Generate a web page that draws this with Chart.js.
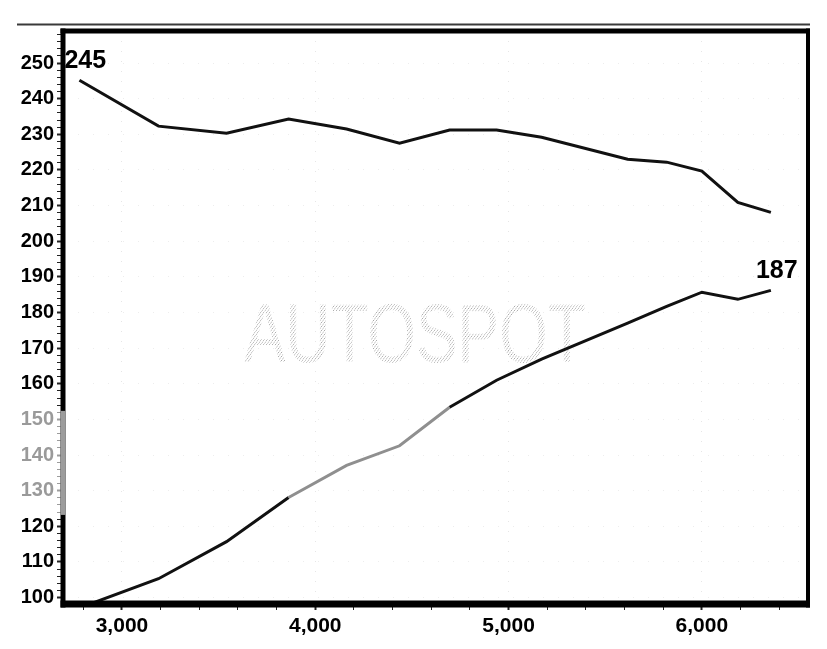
<!DOCTYPE html>
<html><head><meta charset="utf-8">
<script src="https://cdn.jsdelivr.net/npm/chart.js@4/dist/chart.umd.min.js"></script>
<style>html,body{margin:0;padding:0;background:#fff}</style>
</head><body>
<canvas id="c" width="827" height="649"></canvas>
<script>
// ---- data ----
const rpm    = [2780, 3189, 3541, 3862, 4162, 4436, 4695, 4938, 5171, 5616, 5818, 6000, 6186, 6357];
const torque = [245.2, 232.3, 230.3, 234.3, 231.5, 227.5, 231.2, 231.2, 229.2, 223.0, 222.2, 219.7, 210.9, 208.1];
const power  = [97.1, 105.3, 115.7, 128.1, 137.1, 142.6, 153.4, 161.0, 166.9, 177.0, 181.7, 185.7, 183.7, 186.2];
const xMajorTicks = [3000, 4000, 5000, 6000];
const yMajorTicks = [100, 110, 120, 130, 140, 150, 160, 170, 180, 190, 200, 210, 220, 230, 240, 250];
const grayLabels = [130, 140, 150];
const peakLabels = ['245', '187'];
const watermark = 'AUTOSPOT';

const X_MIN = 2695, X_MAX = 6549, Y_MIN = 98.2, Y_MAX = 259;
const FONT = '"Liberation Sans", Arial, Helvetica, sans-serif';

function range(a, b, s){ const r=[]; for(let v=a; v<=b+1e-9; v+=s) r.push(v); return r; }

const frame = {
  id:'frame',
  beforeDatasetsDraw(chart){
    const {ctx} = chart;
    // stippled watermark
    const pc = document.createElement('canvas'); pc.width=4; pc.height=4;
    const p = pc.getContext('2d');
    p.fillStyle='#a8a8a8'; p.fillRect(0,0,1,1); p.fillRect(2,2,1,1);
    p.fillStyle='#d0d0d0'; p.fillRect(3,1,1,1); p.fillRect(1,3,1,1);
    ctx.save();
    ctx.translate(244, 362);
    ctx.scale(0.742, 1);
    ctx.font = '84px ' + FONT;
    ctx.textBaseline = 'alphabetic';
    ctx.fillStyle = ctx.createPattern(pc, 'repeat');
    ctx.fillText(watermark, 0, 0);
    ctx.restore();
  },
  afterDatasetsDraw(chart){
    const {ctx, chartArea:a, scales} = chart;
    ctx.save();
    // thin line above
    ctx.strokeStyle='#3a3a3a'; ctx.lineWidth=2;
    ctx.beginPath(); ctx.moveTo(17, a.top-6.5); ctx.lineTo(a.right+2, a.top-6.5); ctx.stroke();
    ctx.strokeStyle='#000';
    ctx.lineWidth=5; ctx.beginPath(); ctx.moveTo(a.left-2.5, a.top); ctx.lineTo(a.right+2, a.top); ctx.stroke();
    ctx.lineWidth=5; ctx.beginPath(); ctx.moveTo(a.left, a.top-2.5); ctx.lineTo(a.left, a.bottom+3.5); ctx.stroke();
    ctx.lineWidth=7; ctx.beginPath(); ctx.moveTo(a.left-2.5, a.bottom); ctx.lineTo(a.right+2, a.bottom); ctx.stroke();
    ctx.lineWidth=4; ctx.beginPath(); ctx.moveTo(a.right, a.top-2.5); ctx.lineTo(a.right, a.bottom+3.5); ctx.stroke();
    // grayed part of left axis
    const y = scales.y;
    ctx.strokeStyle='#9c9c9c'; ctx.lineWidth=5;
    ctx.beginPath(); ctx.moveTo(a.left, y.getPixelForValue(152.4)); ctx.lineTo(a.left, y.getPixelForValue(123.2)); ctx.stroke();
    // peak labels
    ctx.fillStyle='#000'; ctx.font='bold 25px ' + FONT; ctx.textBaseline='alphabetic'; ctx.textAlign='left';
    const x = scales.x;
    ctx.fillText(peakLabels[0], x.getPixelForValue(rpm[0]) - 15, y.getPixelForValue(torque[0]) - 12);
    const n = rpm.length - 1;
    ctx.fillText(peakLabels[1], x.getPixelForValue(rpm[n]) - 15, y.getPixelForValue(power[n]) - 12);
    ctx.restore();
  }
};

const grayFrom = 3862, grayTo = 4436;

new Chart(document.getElementById('c'), {
  type:'line',
  data:{
    datasets:[
      { data: rpm.map((r,i)=>({x:r, y:torque[i]})), borderColor:'#111', borderWidth:3, pointRadius:0, tension:0 },
      { data: rpm.map((r,i)=>({x:r, y:power[i]})), borderColor:'#111', borderWidth:3, pointRadius:0, tension:0,
        segment:{ borderColor: c => (c.p0.parsed.x >= grayFrom && c.p0.parsed.x <= grayTo) ? '#8f8f8f' : '#111' } }
    ]
  },
  options:{
    responsive:false, animation:false,
    layout:{ padding:{ top:31, right:19, left:0, bottom:0 } },
    plugins:{ legend:{display:false}, tooltip:{enabled:false} },
    scales:{
      x:{
        type:'linear', min:X_MIN, max:X_MAX,
        afterBuildTicks: s => { s.ticks = range(2800, 6400, 200).map(v=>({value:v})); },
        afterFit: s => { s.height = 45; },
        border:{ display:false, dash:[1,9] },
        grid:{
          drawOnChartArea:true, tickLength:6,
          color: c => xMajorTicks.includes(c.tick && c.tick.value) ? '#e6e6e6' : 'rgba(0,0,0,0)',
          lineWidth:1,
          tickColor:'#222', tickWidth: c => xMajorTicks.includes(c.tick && c.tick.value) ? 2 : 1
        },
        ticks:{
          autoSkip:false, maxRotation:0, padding:4, color:'#000',
          font:{ family:FONT, size:21, weight:'bold' },
          callback: v => xMajorTicks.includes(v) ? v.toLocaleString('en-US') : ''
        }
      },
      y:{
        type:'linear', min:Y_MIN, max:Y_MAX,
        afterBuildTicks: s => { s.ticks = range(100, 258, 2).map(v=>({value:v})); },
        afterFit: s => { s.width = 63; },
        border:{ display:false, dash:[1,14] },
        grid:{
          drawOnChartArea:true, tickLength:6,
          color: c => yMajorTicks.includes(c.tick && c.tick.value) ? '#ededed' : 'rgba(0,0,0,0)',
          lineWidth:1,
          tickColor: c => (c.tick.value>=124 && c.tick.value<=152) ? '#9c9c9c' : '#222',
          tickWidth: c => yMajorTicks.includes(c.tick && c.tick.value) ? 2 : 1
        },
        ticks:{
          autoSkip:false, padding:3,
          color: c => grayLabels.includes(c.tick.value) ? '#9a9a9a' : '#000',
          font:{ family:FONT, size:20, weight:'bold' },
          callback: v => yMajorTicks.includes(v) ? String(v) : ''
        }
      }
    }
  },
  plugins:[frame]
});
</script>
</body></html>
